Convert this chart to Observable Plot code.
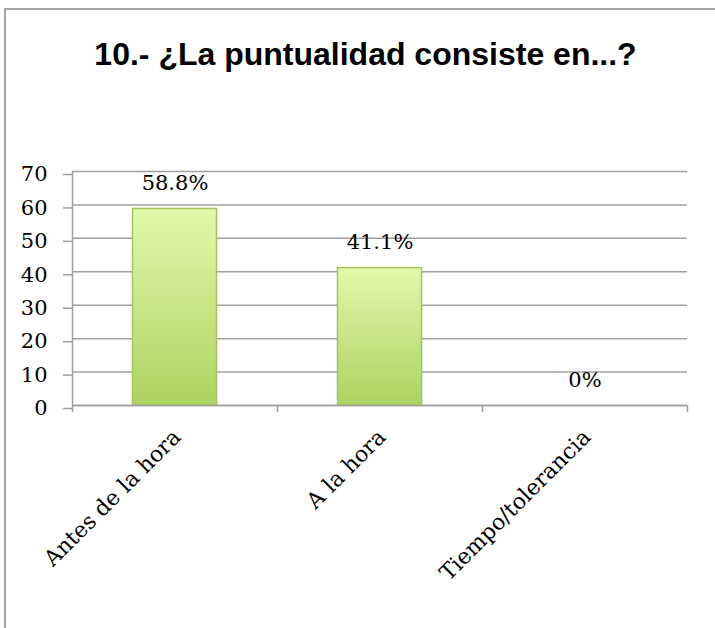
<!DOCTYPE html>
<html>
<head>
<meta charset="utf-8">
<script src="https://cdn.jsdelivr.net/npm/d3@7"></script>
<script src="https://cdn.jsdelivr.net/npm/@observablehq/plot@0.6"></script>
<style>
  body { margin: 0; background: #fff; }
  #wrap { position: relative; width: 715px; height: 628px; overflow: hidden; background: #fff; }
  #frame { position: absolute; left: 4px; top: 8px; width: 800px; height: 800px; border: 2px solid #a6a6a6; box-sizing: border-box; }
  #title { position: absolute; left: 0; width: 731px; top: 38px; text-align: center;
           font: bold 32px "Liberation Sans", Arial, sans-serif; line-height: 32px; color: #000; white-space: nowrap; }
  #chart { position: absolute; left: 0; top: 100px; }
  #chart svg text { font-family: "DejaVu Serif", "Liberation Serif", serif; }
</style>
</head>
<body>
<div id="wrap">
  <div id="frame"></div>
  <div id="title">10.- ¿La puntualidad consiste en...?</div>
  <div id="chart"></div>
</div>
<script>
const categories = ["Antes de la hora", "A la hora", "Tiempo/tolerancia"];
const values = [58.8, 41.1, 0];
const valueLabels = ["58.8%", "41.1%", "0%"];
const yTicks = [0, 10, 20, 30, 40, 50, 60, 70];

const data = categories.map((c, i) => ({i, c, v: values[i], label: valueLabels[i]}));
const xBounds = d3.range(categories.length + 1);

const serif = "DejaVu Serif, Liberation Serif, serif";
const gridColor = "#9f9f9f";

const svg = Plot.plot({
  width: 715,
  height: 528,
  marginTop: 71,
  marginBottom: 223,
  marginLeft: 72,
  marginRight: 28,
  style: {background: "transparent", overflow: "visible"},
  x: {domain: [0, categories.length], axis: null},
  y: {domain: [0, 70], axis: null},
  marks: [
    Plot.gridY(yTicks, {stroke: gridColor, strokeOpacity: 1, strokeWidth: 1.5}),
    Plot.rectY(data.filter(d => d.v > 0), {
      x1: d => d.i + 0.295, x2: d => d.i + 0.705, y: "v",
      fill: "url(#barGrad)", stroke: "#a3c45e", strokeWidth: 1.5
    }),
    Plot.ruleY([0], {stroke: gridColor, strokeWidth: 1.5}),
    Plot.ruleX([0], {stroke: gridColor, strokeWidth: 1.5}),
    Plot.axisY(yTicks, {
      tickSize: 9, tickPadding: 16, stroke: gridColor, strokeWidth: 1.5,
      fill: "#000", fontSize: 21, fontFamily: serif, dy: 3, label: null
    }),
    Plot.axisX(xBounds, {
      tickSize: 7, stroke: gridColor, strokeWidth: 1.5, tickFormat: () => "", label: null
    }),
    Plot.text(data, {
      x: d => d.i + 0.5, y: "v", text: "label",
      fontSize: 21, fontFamily: serif, fill: "#000",
      lineAnchor: "bottom", dy: -19
    }),
    Plot.text(data, {
      x: d => d.i + 0.5, y: 0, text: "c",
      rotate: -45, textAnchor: "end", lineAnchor: "bottom",
      fontSize: 22, fontFamily: serif, fill: "#000",
      dx: 7, dy: 33
    })
  ]
});

const defs = d3.select(svg).insert("defs", ":first-child");
const grad = defs.append("linearGradient")
  .attr("id", "barGrad").attr("x1", 0).attr("y1", 0).attr("x2", 0).attr("y2", 1);
grad.append("stop").attr("offset", "0%").attr("stop-color", "#e1f9ab");
grad.append("stop").attr("offset", "100%").attr("stop-color", "#add262");

document.getElementById("chart").appendChild(svg);
</script>
</body>
</html>
